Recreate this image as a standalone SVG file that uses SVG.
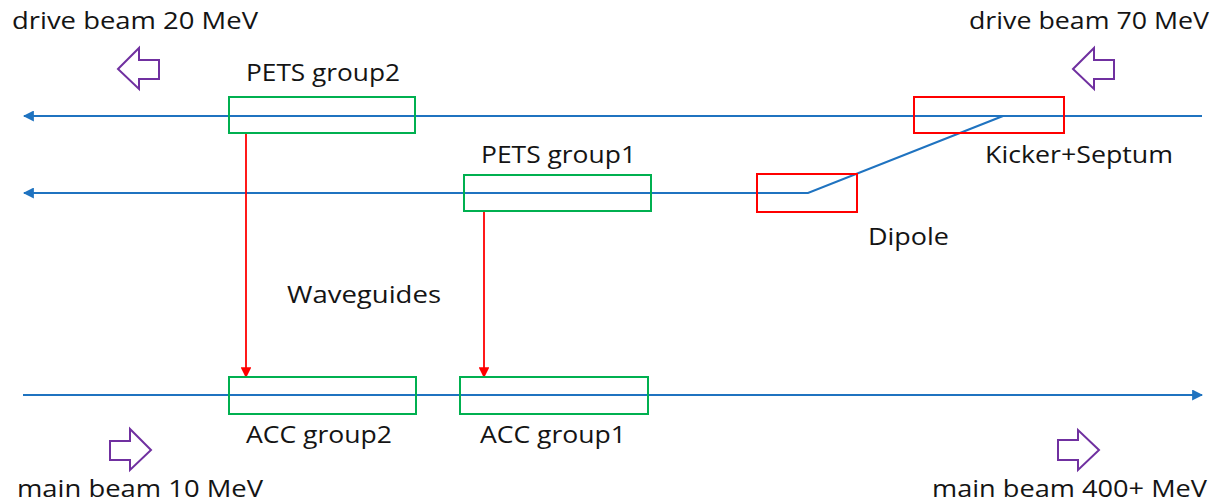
<svg xmlns="http://www.w3.org/2000/svg" width="1217" height="503" viewBox="0 0 1217 503">
<style>
text{font-family:"Open Sans","Noto Sans",sans-serif;font-size:24.5px;fill:#141414}
.beam{stroke:#1f73c0;stroke-width:2.2;fill:none}
.grn{stroke:#00b050;stroke-width:2;fill:#fff;fill-opacity:0}
.redbox{stroke:#ff0000;stroke-width:2;fill:none}
.wg{stroke:#ff0000;stroke-width:1.8;fill:none}
.dir{stroke:#7030a0;stroke-width:2;fill:none;stroke-linejoin:miter}
</style>
<defs>
<marker id="ab" viewBox="0 0 10 10" refX="9" refY="5" markerWidth="5" markerHeight="5" markerUnits="strokeWidth" orient="auto"><path d="M0,0 L10,5 L0,10 z" fill="#1f73c0"/></marker>
<marker id="ar" viewBox="0 0 10 10" refX="9" refY="5" markerWidth="6" markerHeight="6" markerUnits="strokeWidth" orient="auto"><path d="M0,0 L10,5 L0,10 z" fill="#ff0000"/></marker>
</defs>
<g id="connectors">
<line class="beam" x1="1202" y1="116" x2="24" y2="116" marker-end="url(#ab)"/>
<polyline class="beam" points="1003,116 808,193 24,193" marker-end="url(#ab)"/>
<line class="beam" x1="23" y1="395" x2="1202" y2="395" marker-end="url(#ab)"/>
<line class="wg" x1="246" y1="134" x2="246" y2="377" marker-end="url(#ar)"/>
<line class="wg" x1="484" y1="212" x2="484" y2="377" marker-end="url(#ar)"/>
</g>
<g id="pets2"><rect class="grn" x="229" y="97" width="186" height="36"/><text x="246" y="81" textLength="154" lengthAdjust="spacingAndGlyphs">PETS group2</text></g>
<g id="pets1"><rect class="grn" x="464" y="175" width="187" height="36"/><text x="481" y="163" textLength="155" lengthAdjust="spacingAndGlyphs">PETS group1</text></g>
<g id="acc2"><rect class="grn" x="229" y="377" width="187" height="37"/><text x="246" y="443" textLength="146" lengthAdjust="spacingAndGlyphs">ACC group2</text></g>
<g id="acc1"><rect class="grn" x="460" y="377" width="188" height="37"/><text x="480" y="443" textLength="146" lengthAdjust="spacingAndGlyphs">ACC group1</text></g>
<g id="kicker"><rect class="redbox" x="914" y="97" width="150" height="36"/><text x="985" y="163" textLength="188" lengthAdjust="spacingAndGlyphs">Kicker+Septum</text></g>
<g id="dipole"><rect class="redbox" x="757" y="174" width="100" height="38"/><text x="868" y="245" textLength="81" lengthAdjust="spacingAndGlyphs">Dipole</text></g>
<g id="waveguides"><text x="287" y="303" textLength="154" lengthAdjust="spacingAndGlyphs">Waveguides</text></g>
<g id="drive20"><text x="12" y="29" textLength="246" lengthAdjust="spacingAndGlyphs">drive beam 20 MeV</text><path class="dir" d="M118,69 L139,48 L139,60 L159,60 L159,79 L139,79 L139,89 Z"/></g>
<g id="drive70"><text x="969" y="29" textLength="240" lengthAdjust="spacingAndGlyphs">drive beam 70 MeV</text><path class="dir" d="M1073,69 L1094,48 L1094,60 L1114,60 L1114,79 L1094,79 L1094,89 Z"/></g>
<g id="main10"><text x="17" y="497" textLength="246" lengthAdjust="spacingAndGlyphs">main beam 10 MeV</text><path class="dir" d="M151,450 L130,429 L130,441 L110,441 L110,460 L130,460 L130,470 Z"/></g>
<g id="main400"><text x="932" y="497" textLength="275" lengthAdjust="spacingAndGlyphs">main beam 400+ MeV</text><path class="dir" d="M1099,450 L1078,430 L1078,440 L1058,440 L1058,460 L1078,460 L1078,470 Z"/></g>
</svg>
